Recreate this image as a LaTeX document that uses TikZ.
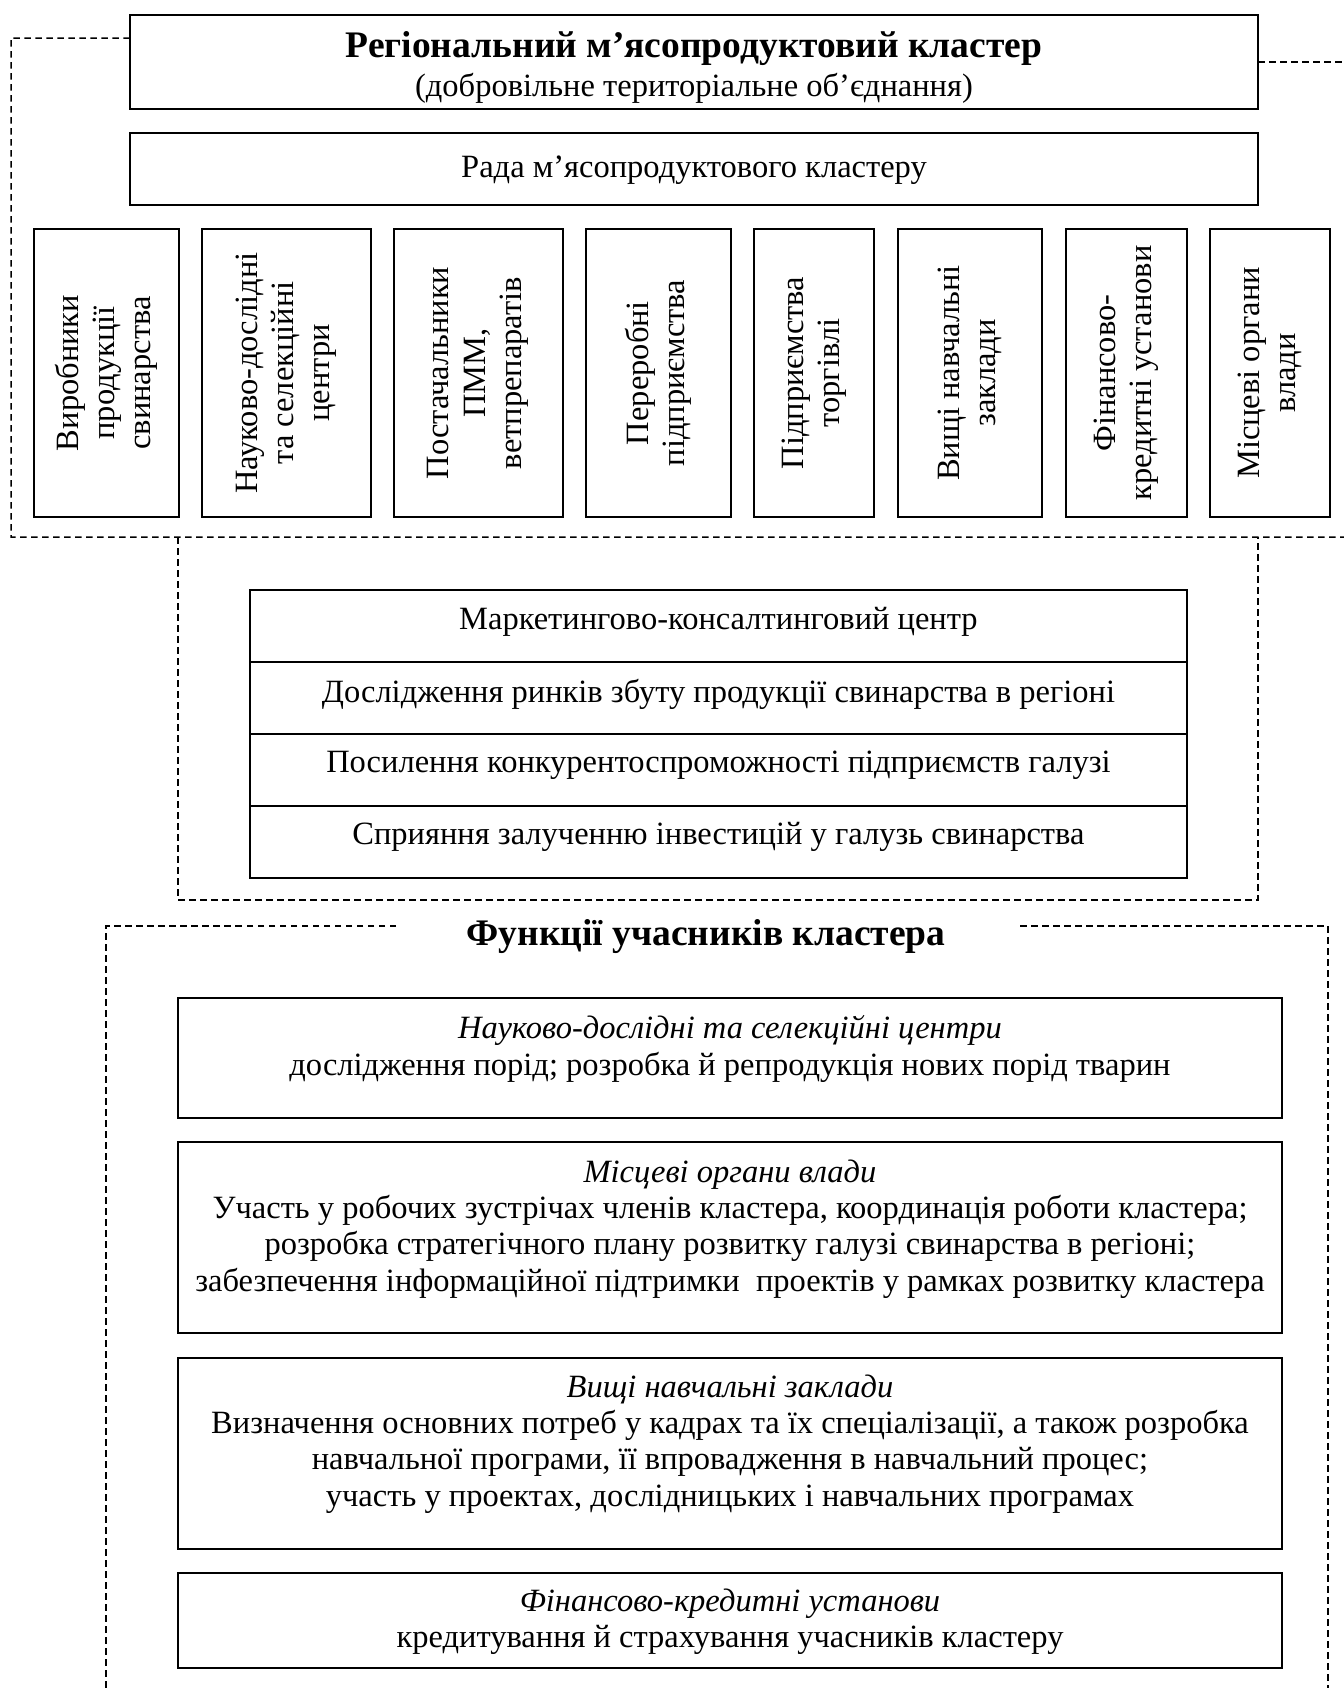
\documentclass[tikz,border=0pt]{standalone}
\usepackage{fontspec}
\setmainfont{Liberation Serif}
\usetikzlibrary{calc}
\newcommand{\fsn}{\fontsize{13}{14.5}\selectfont}
\newcommand{\fsb}{\fontsize{15}{17}\selectfont\bfseries}
\begin{document}
\begin{tikzpicture}[x=0.4pt,y=-0.4pt,
  box/.style={draw, line width=0.8pt, inner sep=0pt, outer sep=0pt, rectangle},
  vbox/.style={box, rotate=90, align=center, font=\fsn, minimum width=115.2pt},
  fr/.style={line width=0.6pt, dash pattern=on 2.6pt off 1.8pt},
  txt/.style={align=center, font=\fsn, inner sep=0pt},
  ttl/.style={align=center, font=\fsb, inner sep=0pt}]
\useasboundingbox (0,0) rectangle (1344,1688);

% title and council
\node[box, minimum width=451.2pt, minimum height=37.6pt] (tbox) at (694,62) {};
\node[ttl] (ttext) at (694,49) {Регіональний м’ясопродуктовий кластер};
\node[txt] (tsub) at (694,88) {(добровільне територіальне об’єднання)};
\node[box, minimum width=451.2pt, minimum height=28.8pt] (rada) at (694,169) {};
\node[txt] (radat) at (694,170) {Рада м’ясопродуктового кластеру};

% participants
\node[vbox, minimum height=57.6pt] (v1) at (106.5,373) {Виробники\\продукції\\свинарства};
\node[vbox, minimum height=67.6pt] (v2) at (286,373) {Науково-дослідні\\та селекційні\\центри};
\node[vbox, minimum height=67.6pt] (v3) at (478,373) {Постачальники\\ПММ,\\ветпрепаратів};
\node[vbox, minimum height=58pt] (v4) at (658,373) {Переробні\\підприємства};
\node[vbox, minimum height=48pt] (v5) at (814,373) {Підприємства\\торгівлі};
\node[vbox, minimum height=57.8pt] (v6) at (970,373) {Вищі навчальні\\заклади};
\node[vbox, minimum height=48.4pt] (v7) at (1126.5,373) {Фінансово-\\кредитні установи};
\node[vbox, minimum height=48.2pt] (v8) at (1270,373) {Місцеві органи\\влади};

% outer dashed frame
\coordinate (oTL) at (11,38);
\coordinate (oBL) at (11,537);
\coordinate (oBR) at (1344,537);
\coordinate (oTR) at (1344,62);
\draw[fr] ($(tbox.north west)+(0,23)$) -- (oTL) -- (oBL) -- (oBR);
\draw[fr] (tbox.east) -- (oTR);

% middle dashed frame
\coordinate (mTL) at (178,537);
\coordinate (mBL) at (178,900);
\coordinate (mBR) at (1258,900);
\coordinate (mTR) at (1258,537);
\draw[fr] (mTL) -- (mBL) -- (mBR) -- (mTR);

% marketing centre table
\node[box, minimum width=374.8pt, minimum height=28.8pt] (m1) at (718.5,626) {};
\node[box, minimum width=374.8pt, minimum height=28.8pt] (m2) at (718.5,698) {};
\node[box, minimum width=374.8pt, minimum height=28.8pt] (m3) at (718.5,770) {};
\node[box, minimum width=374.8pt, minimum height=28.8pt] (m4) at (718.5,842) {};
\node[txt] (m1t) at (718.5,622) {Маркетингово-консалтинговий центр};
\node[txt] (m2t) at (718.5,694) {Дослідження ринків збуту продукції свинарства в регіоні};
\node[txt] (m3t) at (718.5,765) {Посилення конкурентоспроможності підприємств галузі};
\node[txt] (m4t) at (718.5,837) {Сприяння залученню інвестицій у галузь свинарства};

% functions frame
\node[ttl] (ftitle) at (706,937) {Функції учасників кластера};
\coordinate (fL1) at (396,926);
\coordinate (fTL) at (106,926);
\coordinate (fBL) at (106,1688);
\coordinate (fR1) at (1020,926);
\coordinate (fTR) at (1328,926);
\coordinate (fBR) at (1328,1688);
\draw[fr] (fL1) -- (fTL) -- (fBL);
\draw[fr] (fR1) -- (fTR) -- (fBR);

% function boxes
\node[box, minimum width=441.6pt, minimum height=48pt] (fa) at (730,1058) {};
\node[txt] (fat) at (730,1049) {\textit{Науково-дослідні та селекційні центри}\\дослідження порід; розробка й репродукція нових порід тварин};
\node[box, minimum width=441.6pt, minimum height=76.4pt] (fb) at (730,1237.5) {};
\node[txt] (fbt) at (730,1229) {\textit{Місцеві органи влади}\\Участь у робочих зустрічах членів кластера, координація роботи кластера;\\розробка стратегічного плану розвитку галузі свинарства в регіоні;\\забезпечення інформаційної підтримки\ \ проектів у рамках розвитку кластера};
\node[box, minimum width=441.6pt, minimum height=76.4pt] (fc) at (730,1453.5) {};
\node[txt] (fct) at (730,1444) {\textit{Вищі навчальні заклади}\\Визначення основних потреб у кадрах та їх спеціалізації, а також розробка\\навчальної програми, її впровадження в навчальний процес;\\участь у проектах, дослідницьких і навчальних програмах};
\node[box, minimum width=441.6pt, minimum height=38pt] (fd) at (730,1620.5) {};
\node[txt] (fdt) at (730,1622) {\textit{Фінансово-кредитні установи}\\кредитування й страхування учасників кластеру};
\end{tikzpicture}
\end{document}
